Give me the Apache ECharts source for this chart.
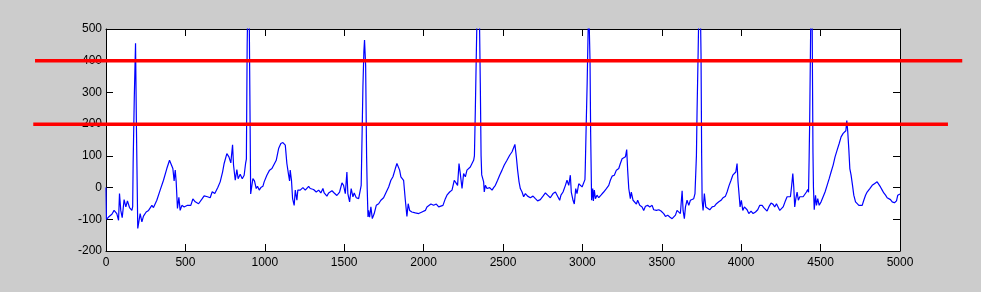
<!DOCTYPE html>
<html>
<head>
<meta charset="utf-8">
<script src="https://cdn.jsdelivr.net/npm/echarts@6/dist/echarts.min.js"></script>
<style>
html,body{margin:0;padding:0;background:#cccccc;}
#chart{width:981px;height:292px;}
</style>
</head>
<body>
<div id="chart"></div>
<script>
// ECG trace: sample index and amplitude
const sampleIdx = [0,3,16,37,51,68,79,85,93,102,114,125,135,148,163,168,171,178,186,192,200,205,215,226,236,253,268,289,299,320,341,362,383,400,410,421,429,436,442,450,459,467,478,492,513,534,547,562,583,593,606,618,639,656,669,685,704,719,734,744,761,774,786,797,803,814,824,832,845,858,870,879,884,889,895,901,906,911,919,925,935,946,954,965,975,988,996,1013,1030,1045,1055,1072,1087,1101,1114,1122,1129,1139,1150,1156,1160,1168,1175,1185,1192,1202,1208,1223,1240,1255,1276,1286,1307,1324,1339,1353,1366,1374,1391,1402,1423,1437,1454,1471,1486,1496,1507,1517,1523,1534,1544,1555,1563,1576,1591,1601,1607,1612,1618,1624,1628,1635,1641,1645,1650,1653,1660,1668,1677,1689,1702,1717,1731,1748,1765,1780,1794,1807,1822,1832,1843,1849,1857,1866,1874,1885,1895,1903,1912,1926,1948,1969,1990,2000,2011,2021,2032,2046,2063,2080,2095,2105,2122,2137,2147,2164,2179,2193,2204,2214,2223,2231,2242,2252,2263,2273,2284,2294,2305,2315,2320,2326,2333,2340,2350,2357,2362,2366,2378,2382,2389,2399,2416,2431,2441,2452,2466,2479,2494,2508,2525,2542,2557,2567,2575,2584,2592,2601,2609,2620,2630,2641,2655,2672,2689,2704,2718,2735,2752,2767,2781,2798,2815,2830,2840,2857,2865,2878,2893,2903,2914,2924,2930,2941,2949,2958,2966,2977,2987,2998,3008,3016,3018,3024,3030,3037,3043,3048,3052,3058,3065,3069,3075,3082,3092,3103,3117,3134,3151,3166,3176,3187,3201,3214,3229,3239,3250,3260,3271,3279,3285,3292,3302,3308,3319,3329,3340,3348,3361,3376,3386,3397,3411,3424,3439,3449,3466,3481,3495,3512,3523,3537,3550,3565,3575,3586,3596,3607,3617,3628,3634,3642,3649,3659,3670,3680,3691,3701,3709,3712,3718,3722,3729,3735,3742,3747,3751,3754,3760,3768,3777,3789,3802,3817,3831,3844,3859,3873,3886,3901,3911,3924,3936,3947,3957,3966,3974,3980,3987,3993,4001,4010,4020,4029,4037,4048,4062,4075,4090,4104,4117,4132,4142,4153,4163,4174,4188,4201,4211,4222,4232,4243,4251,4264,4276,4289,4300,4310,4318,4325,4331,4337,4344,4352,4360,4369,4377,4390,4402,4411,4419,4424,4428,4431,4436,4440,4446,4449,4452,4455,4460,4468,4474,4482,4491,4503,4516,4528,4541,4554,4566,4579,4591,4604,4617,4629,4642,4650,4659,4665,4671,4678,4684,4692,4701,4709,4720,4730,4741,4751,4762,4772,4783,4793,4810,4825,4839,4856,4867,4877,4888,4898,4909,4919,4930,4940,4951,4965,4978,4986,4993,5000];
const ecgValue = [0,-100,-93,-84,-72,-82,-103,-19,-72,-95,-38,-61,-42,-63,-72,-60,81,280,455,176,-129,-114,-82,-108,-90,-77,-72,-56,-63,-40,-8,23,60,86,84,60,21,55,18,-66,-31,-72,-56,-61,-56,-56,-36,-45,-51,-56,-35,-26,-29,-32,-13,-19,0,18,49,76,107,97,78,135,71,23,57,28,42,28,39,76,90,450,640,600,290,-20,-19,28,21,-3,4,-8,0,4,18,39,55,60,65,86,123,139,142,144,134,76,39,21,55,23,-35,-56,-8,-40,-8,-8,0,-8,4,-3,-6,-14,-8,-17,-3,-17,-27,-17,-10,-17,-25,-14,15,7,-19,49,-19,-45,-3,-29,-17,-32,-35,-40,7,10,320,430,465,385,100,-5,-93,-72,-93,-61,-98,-82,-56,-51,-40,-32,-14,2,23,34,60,76,78,55,34,39,23,-40,-91,-51,-72,-77,-80,-82,-77,-82,-72,-61,-56,-52,-56,-52,-61,-63,-56,-35,-24,-14,-8,23,15,7,76,44,-3,44,34,55,60,65,71,86,100,250,450,640,600,330,100,40,18,-14,7,-3,0,-8,0,7,23,39,55,71,86,102,113,118,136,97,55,18,-3,-14,-29,-19,-27,-32,-27,-35,-42,-38,-27,-17,-24,-32,-19,-14,-19,-40,-24,-14,7,23,7,39,-14,-40,-52,-3,-19,12,7,2,7,25,60,200,330,520,510,400,170,-40,-3,-42,-8,-35,-24,-32,-24,-14,-3,7,23,36,39,55,60,76,91,86,97,120,55,-3,-35,-14,-40,-45,-52,-40,-56,-61,-72,-59,-56,-61,-56,-70,-72,-70,-74,-82,-91,-87,-93,-98,-103,-87,-72,-66,-82,-10,-72,-98,-61,-40,-56,-40,-45,-35,-19,-15,100,240,430,620,600,420,100,-40,-72,-19,-61,-61,-70,-61,-59,-51,-45,-40,-32,-27,-14,7,23,39,34,49,76,18,-24,-61,-40,-72,-61,-66,-70,-82,-74,-82,-77,-70,-56,-56,-63,-66,-74,-61,-49,-53,-61,-51,-61,-72,-77,-61,-45,-29,-24,-29,7,44,2,-61,-35,-14,-40,-29,-35,-29,-24,-14,-6,-15,100,200,430,620,600,340,110,0,-70,-24,-56,-35,-56,-45,-29,-14,7,28,49,71,97,118,139,160,171,168,179,211,176,118,60,39,7,-24,-45,-48,-56,-51,-56,-40,-24,-14,-3,7,12,18,15,2,-8,-17,-24,-32,-27,-38,-45,-48,-42,-24,-19,-20];

// Threshold lines (value, start and end in sample units; they run past the axes)
const thresholdValue = [400, 200];
const thresholdStart = [-447, -458];
const thresholdEnd = [5392, 5302];

// Axis ranges
const xRange = [0, 5000], xStep = 500;
const yRange = [-200, 500], yStep = 100;

const W = 981, H = 292;
const G = {left: 106, right: 81, top: 29, bottom: 41};
const pxPerUnit = (W - G.left - G.right) / (xRange[1] - xRange[0]);
const extMin = -470, extMax = 5400;
const G2left = G.left + (extMin - xRange[0]) * pxPerUnit;
const G2right = W - (G.left + (extMax - xRange[0]) * pxPerUnit);

const font = {color: '#000', fontSize: 12, fontFamily: '"Liberation Sans", Arial, Helvetica, sans-serif', formatter: v => String(v)};
const axisLine = {show: true, onZero: false, lineStyle: {color: '#000', width: 1}};
const axisTick = {show: true, inside: true, length: 7, lineStyle: {color: '#000', width: 1}};

const chart = echarts.init(document.getElementById('chart'), null, {renderer: 'canvas'});
chart.setOption({
  animation: false,
  backgroundColor: '#cccccc',
  grid: [
    {left: G.left, right: G.right, top: G.top, bottom: G.bottom, show: true, backgroundColor: '#ffffff', borderWidth: 0},
    {left: G2left, right: G2right, top: G.top, bottom: G.bottom, show: false}
  ],
  xAxis: [
    {type: 'value', gridIndex: 0, position: 'bottom', min: xRange[0], max: xRange[1], interval: xStep,
     axisLine, axisTick, splitLine: {show: false}, axisLabel: Object.assign({margin: 6}, font)},
    {type: 'value', gridIndex: 0, position: 'top', min: xRange[0], max: xRange[1], interval: xStep,
     axisLine, axisTick, splitLine: {show: false}, axisLabel: {show: false}},
    {type: 'value', gridIndex: 1, min: extMin, max: extMax, show: false}
  ],
  yAxis: [
    {type: 'value', gridIndex: 0, position: 'left', min: yRange[0], max: yRange[1], interval: yStep,
     axisLine, axisTick, splitLine: {show: false}, axisLabel: Object.assign({margin: 4}, font)},
    {type: 'value', gridIndex: 0, position: 'right', min: yRange[0], max: yRange[1], interval: yStep,
     axisLine, axisTick, splitLine: {show: false}, axisLabel: {show: false}},
    {type: 'value', gridIndex: 1, min: yRange[0], max: yRange[1], show: false}
  ],
  series: [
    {type: 'line', xAxisIndex: 0, yAxisIndex: 0, showSymbol: false, symbol: 'none', clip: true,
     data: sampleIdx.map((x, i) => [x, ecgValue[i]]),
     lineStyle: {color: '#0000ff', width: 1.2}, z: 3}
  ].concat(thresholdValue.map((v, i) => ({
    type: 'line', xAxisIndex: 2, yAxisIndex: 2, symbol: 'none', clip: false, z: 10,
    data: [[thresholdStart[i], v], [thresholdEnd[i], v]],
    lineStyle: {color: '#ff0000', width: 3.5, cap: 'butt'}
  })))
});
</script>
</body>
</html>
